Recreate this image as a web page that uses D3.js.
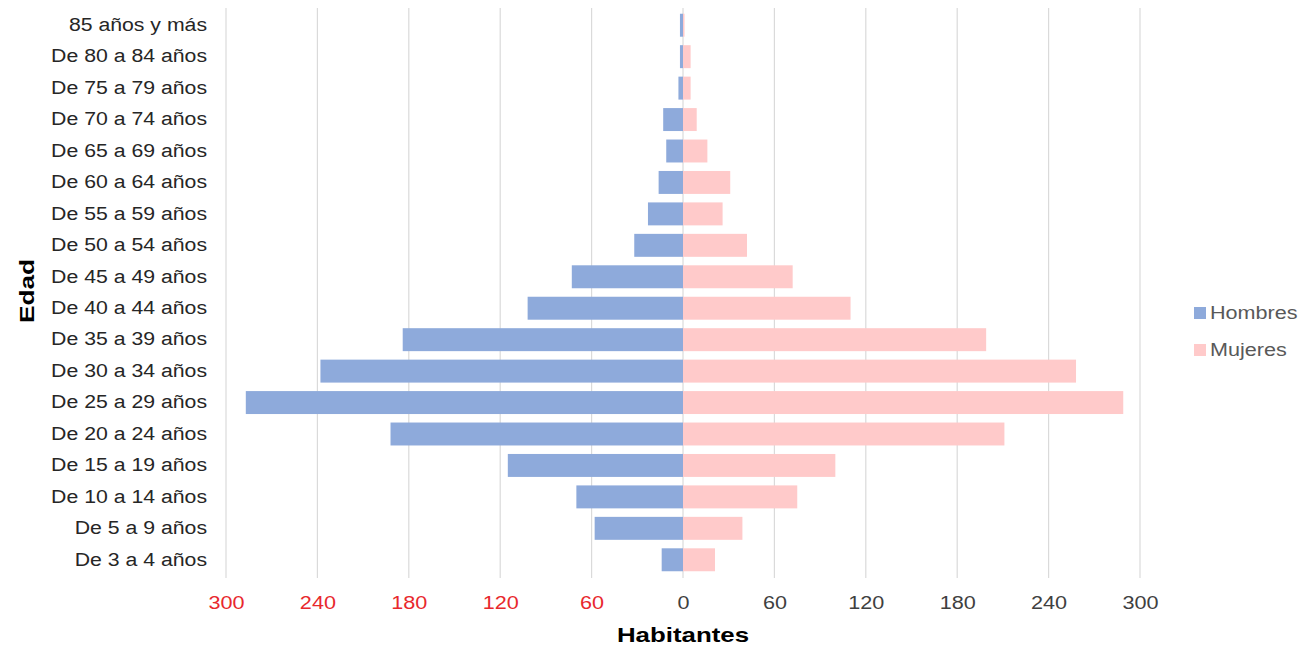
<!DOCTYPE html>
<html><head><meta charset="utf-8">
<script src="https://cdn.jsdelivr.net/npm/d3@7"></script>
<style>body{margin:0;background:#fff}svg{display:block}text{font-family:"Liberation Sans",Arial,sans-serif}</style>
</head><body>
<svg id="c" width="1299" height="645"></svg>
<script>
const categories = ["85 años y más","De 80 a 84 años","De 75 a 79 años","De 70 a 74 años","De 65 a 69 años","De 60 a 64 años","De 55 a 59 años","De 50 a 54 años","De 45 a 49 años","De 40 a 44 años","De 35 a 39 años","De 30 a 34 años","De 25 a 29 años","De 20 a 24 años","De 15 a 19 años","De 10 a 14 años","De 5 a 9 años","De 3 a 4 años"];
const hombres = [2,2,3,13,11,16,23,32,73,102,184,238,287,192,115,70,58,14];
const mujeres = [1,5,5,9,16,31,26,42,72,110,199,258,289,211,100,75,39,21];
const tickValues = [-300,-240,-180,-120,-60,0,60,120,180,240,300];
const seriesNames = ["Hombres","Mujeres"];
const colors = {Hombres:"#8eaadb", Mujeres:"#ffcaca"};

const svg = d3.select("#c");
const x = d3.scaleLinear().domain([-300,300]).range([226,1140]);
const y = d3.scaleBand().domain(categories).range([9.5,575.5]).paddingInner(0.27).paddingOuter(0.135);

function stretch(sel, k){
  sel.each(function(){
    const w = this.getComputedTextLength();
    this.setAttribute("textLength", (w*k).toFixed(1));
    this.setAttribute("lengthAdjust","spacingAndGlyphs");
  });
}

// gridlines
svg.append("g").selectAll("line").data(tickValues).join("line")
  .attr("x1",d=>x(d)).attr("x2",d=>x(d)).attr("y1",8).attr("y2",578)
  .attr("stroke","#dadada").attr("stroke-width",1.2);

// bars
svg.append("g").selectAll("rect").data(categories).join("rect")
  .attr("x",(d,i)=>x(-hombres[i])).attr("width",(d,i)=>x(0)-x(-hombres[i]))
  .attr("y",d=>y(d)).attr("height",y.bandwidth()).attr("fill",colors.Hombres);
svg.append("g").selectAll("rect").data(categories).join("rect")
  .attr("x",x(0)).attr("width",(d,i)=>x(mujeres[i])-x(0))
  .attr("y",d=>y(d)).attr("height",y.bandwidth()).attr("fill",colors.Mujeres);

// x axis labels
const xa = svg.append("g").attr("transform","translate(0,603)")
  .call(d3.axisBottom(x).tickValues(tickValues).tickSize(0).tickPadding(0).tickFormat(d=>Math.abs(d)));
xa.select(".domain").remove();
xa.selectAll("text").attr("font-size",18).attr("font-family","Liberation Sans, Arial, sans-serif")
  .attr("fill",d=>d<0?"#e8282d":"#404040").attr("dy","0.34em").attr("y",0);
stretch(xa.selectAll("text"),1.2);

// y axis labels
const ya = svg.append("g").attr("transform","translate(207,0)")
  .call(d3.axisLeft(y).tickSize(0).tickPadding(0));
ya.select(".domain").remove();
ya.selectAll("text").attr("font-size",18).attr("font-family","Liberation Sans, Arial, sans-serif").attr("fill","#262626");
stretch(ya.selectAll("text"),1.18);

// axis titles
const xt = svg.append("text").attr("x",x(0)).attr("y",642).attr("text-anchor","middle")
  .attr("font-size",21).attr("font-weight","bold").attr("fill","#000").text("Habitantes");
stretch(xt,1.23);
const yt = svg.append("text").attr("transform","translate(34,291) rotate(-90)").attr("text-anchor","middle")
  .attr("font-size",21).attr("font-weight","bold").attr("fill","#000").text("Edad");
stretch(yt,1.25);

// legend
const lg = svg.append("g").selectAll("g").data(seriesNames).join("g")
  .attr("transform",(d,i)=>`translate(1194,${313+i*37})`);
lg.append("rect").attr("x",0).attr("y",-6).attr("width",12).attr("height",12).attr("fill",d=>colors[d]);
const lt = lg.append("text").attr("x",16).attr("y",0).attr("dy","0.35em").attr("font-size",18).attr("fill","#595959").text(d=>d);
stretch(lt,1.2);
</script>
</body></html>
